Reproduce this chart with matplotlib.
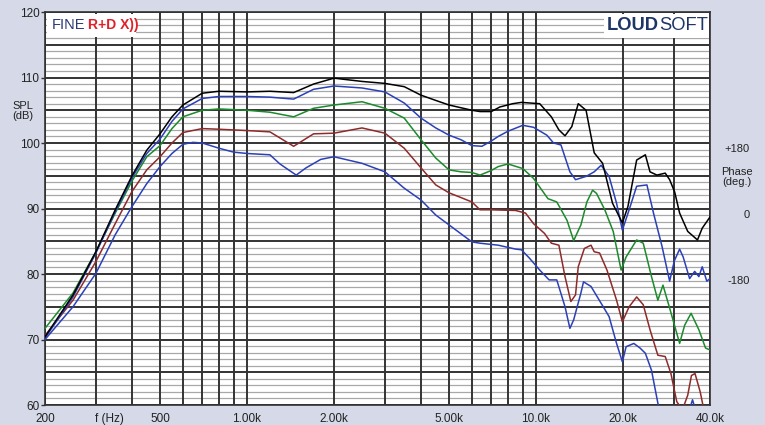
import numpy as np
import matplotlib.pyplot as plt
from matplotlib.ticker import FixedLocator, NullFormatter

# --- data (frequency in Hz, SPL in dB) ---
f_black = [200, 250, 300, 350, 400, 450, 500, 550, 600, 700, 800, 1000, 1200, 1450, 1700, 2000,
           2500, 3000, 3500, 4000, 4500, 5000, 6000, 6400, 7000, 7500, 8300, 8900, 10300, 11300,
           12000, 12600, 13300, 14000, 14900, 15900, 17000, 18400, 19900, 20800, 22300, 23900,
           24800, 26200, 28000, 29000, 30200, 31400, 33500, 36200, 37600, 40000]
spl_black = [70.4, 76.8, 83.4, 89.8, 95.0, 98.9, 101.4, 104.0, 105.8, 107.6, 107.9, 107.8, 107.9,
             107.7, 109.0, 109.9, 109.4, 109.1, 108.6, 107.3, 106.5, 105.8, 105.0, 104.8, 104.8,
             105.5, 106.0, 106.2, 106.0, 104.0, 102.0, 101.1, 102.5, 106.0, 105.0, 98.5, 96.9,
             90.8, 87.8, 90.3, 97.4, 98.2, 95.6, 95.1, 95.4, 94.4, 92.5, 89.3, 86.5, 85.2, 87.0, 88.7]

f_blue1 = [200, 250, 300, 350, 400, 450, 500, 550, 600, 700, 800, 1000, 1200, 1450, 1700, 2000,
           2500, 3000, 3500, 4000, 4500, 5000, 5500, 6000, 6500, 7000, 7400, 8000, 9000, 9800,
           10900, 11500, 12200, 13100, 13700, 14900, 15900, 16800, 17900, 19000, 19900, 21000,
           22300, 24200, 25500, 27300, 29000, 30100, 31400, 32300, 34000, 35400, 36600, 37600,
           39000, 40000]
spl_blue1 = [70.2, 76.5, 83.2, 89.5, 94.7, 98.4, 100.6, 103.3, 105.2, 106.8, 107.1, 107.1, 107.0,
             106.7, 108.2, 108.7, 108.4, 107.8, 106.1, 103.8, 102.3, 101.2, 100.5, 99.6, 99.5,
             100.3, 101.0, 101.8, 102.7, 102.4, 101.2, 100.0, 99.7, 95.6, 94.4, 94.9, 95.6, 96.6,
             94.9, 90.8, 86.7, 89.8, 93.4, 93.6, 89.3, 84.2, 78.9, 82.0, 83.8, 82.6, 79.3, 80.4,
             79.6, 81.1, 78.9, 79.3]

f_green = [200, 250, 300, 350, 400, 450, 500, 550, 600, 700, 800, 1000, 1200, 1450, 1700, 2000,
           2500, 3000, 3500, 4000, 4500, 5000, 5500, 6000, 6400, 7000, 7400, 8000, 9000, 9800,
           11000, 11800, 12800, 13500, 14300, 15000, 15700, 16200, 17300, 18500, 19700, 20500,
           22300, 23500, 25100, 26400, 27500, 29000, 31400, 32700, 34400, 36600, 38600, 40000]
spl_green = [71.7, 77.1, 83.4, 89.3, 94.2, 97.9, 99.6, 102.2, 104.0, 105.0, 105.2, 105.0, 104.7,
             104.0, 105.3, 105.8, 106.3, 105.3, 103.8, 100.5, 97.7, 95.9, 95.6, 95.5, 95.1, 95.8,
             96.4, 96.8, 96.1, 94.6, 91.5, 91.0, 88.2, 85.1, 87.5, 91.0, 92.8, 92.3, 89.8, 86.5,
             80.6, 82.6, 85.2, 84.7, 79.6, 76.0, 78.3, 74.8, 69.4, 72.2, 74.0, 71.5, 68.7, 68.4]

f_brown = [200, 250, 300, 350, 400, 450, 500, 550, 600, 700, 800, 1000, 1200, 1450, 1700, 2000,
           2500, 3000, 3500, 4000, 4500, 5000, 6000, 6400, 7000, 8500, 9200, 9800, 10700, 11300,
           12000, 12600, 13200, 13700, 14000, 14700, 15500, 15900, 16600, 17600, 19000, 19900,
           21000, 22300, 23500, 24800, 26400, 28000, 29300, 30700, 31500, 32500, 33500, 34500,
           35500, 37000, 38000, 40000]
spl_brown = [70.6, 76.0, 81.9, 87.7, 92.6, 95.9, 97.9, 100.0, 101.6, 102.2, 102.1, 101.9, 101.7,
             99.5, 101.4, 101.5, 102.3, 101.5, 99.2, 96.2, 93.6, 92.4, 91.0, 89.8, 89.8, 89.7,
             89.3, 87.7, 86.2, 84.7, 84.4, 79.6, 75.8, 76.8, 81.1, 83.9, 84.4, 83.4, 83.2, 80.6,
             76.0, 72.7, 75.0, 76.5, 75.3, 71.5, 67.6, 67.4, 64.8, 60.5, 59.8, 59.9, 61.5, 64.5,
             64.8, 62.0, 59.5, 58.0]

f_blue2 = [200, 250, 300, 350, 400, 450, 500, 550, 600, 650, 700, 800, 900, 1000, 1200, 1300,
           1480, 1600, 1800, 2000, 2500, 3000, 3500, 4000, 4500, 5000, 6000, 6400, 7400, 8500,
           8900, 9500, 10300, 11100, 11800, 12600, 13100, 13500, 14300, 14600, 15500, 16400,
           17900, 19000, 19900, 20500, 21800, 22900, 23900, 25100, 26400, 27500, 30000, 33000,
           34800, 35500, 40000]
spl_blue2 = [70.0, 75.0, 80.1, 86.0, 90.3, 93.8, 96.4, 98.4, 99.8, 100.1, 100.0, 99.2, 98.6, 98.4,
             98.2, 96.8, 95.1, 96.2, 97.5, 97.9, 96.9, 95.6, 93.1, 91.3, 89.0, 87.5, 84.9, 84.7,
             84.4, 83.8, 83.7, 82.4, 80.6, 79.1, 79.1, 75.0, 71.7, 73.0, 77.1, 78.8, 78.1, 76.3,
             73.5, 69.4, 66.6, 68.9, 69.4, 68.7, 67.9, 65.3, 60.3, 57.5, 56.0, 57.5, 60.8, 59.5, 57.0]

x_labels = ['200', 'f (Hz)', '500', '1.00k', '2.00k', '5.00k', '10.0k', '20.0k', '40.0k']
x_label_pos = [200, 335, 500, 1000, 2000, 5000, 10000, 20000, 40000]
y_ticks = [60, 70, 80, 90, 100, 110, 120]

bg = '#d6dae8'
fig = plt.figure(figsize=(7.65, 4.25), dpi=100, facecolor=bg)
ax = fig.add_axes([45/765, 20/425, 665/765, 393/425])
ax.set_facecolor('white')
ax.set_xscale('log')
ax.set_xlim(200, 40000)
ax.set_ylim(60, 120)

# grid
vlines = list(range(200, 1000, 100)) + list(range(1000, 10000, 1000)) + [10000, 20000, 30000, 40000]
for v in vlines:
    ax.axvline(v, color='#333333', lw=1.4, zorder=1)
for h in range(60, 121):
    if h % 5 == 0:
        ax.axhline(h, color='#333333', lw=1.4, zorder=1)
    else:
        ax.axhline(h, color='#a8a8a8', lw=0.9, zorder=0.9)

ax.plot(f_blue2, spl_blue2, color='#2b40b8', lw=1.1, zorder=3)
ax.plot(f_brown, spl_brown, color='#8e2a2a', lw=1.1, zorder=3)
ax.plot(f_green, spl_green, color='#1b8a2b', lw=1.1, zorder=3)
ax.plot(f_blue1, spl_blue1, color='#2b40b8', lw=1.1, zorder=3)
ax.plot(f_black, spl_black, color='black', lw=1.1, zorder=4)

ax.xaxis.set_major_locator(FixedLocator([]))
ax.xaxis.set_minor_locator(FixedLocator([]))
ax.xaxis.set_minor_formatter(NullFormatter())
ax.set_yticks(y_ticks)
ax.set_yticklabels([str(v) for v in y_ticks], fontsize=8.5, color='#222222', family='Liberation Sans')
ax.tick_params(axis='y', length=3, width=1, pad=1, color='#333333')
for s in ax.spines.values():
    s.set_color('#333333')
    s.set_linewidth(1.2)

for lab, pos in zip(x_labels, x_label_pos):
    ax.text(pos, -0.035, lab, transform=ax.get_xaxis_transform(), ha='center', va='center',
            fontsize=8.5, color='#222222', family='Liberation Sans')

def ftxt(x, y, s, **kw):
    fig.text(x/765, 1 - y/425, s, family='Liberation Sans', **kw)

ftxt(23, 111, 'SPL\n(dB)', ha='center', va='center', fontsize=8, color='#222222', linespacing=1.0)
ftxt(737, 149, '+180', ha='center', va='center', fontsize=8, color='#222222')
ftxt(737, 177, 'Phase\n(deg.)', ha='center', va='center', fontsize=8, color='#222222', linespacing=1.0)
ftxt(747, 215, '0', ha='center', va='center', fontsize=8, color='#222222')
ftxt(739, 281, '-180', ha='center', va='center', fontsize=8, color='#222222')

# logos
fig.patches.append(plt.Rectangle((47/765, 1 - 37/425), 89/765, 23/425, transform=fig.transFigure,
                                 facecolor='white', edgecolor='none', zorder=5))
fig.patches.append(plt.Rectangle((604/765, 1 - 38/425), 105/765, 24/425, transform=fig.transFigure,
                                 facecolor='white', edgecolor='none', zorder=5))
ftxt(52, 25, 'FINE', ha='left', va='center', fontsize=10.5, color='#2a3a70', zorder=6)
ftxt(88, 25, 'R+D X))', ha='left', va='center', fontsize=10, color='#e0202a', weight='bold', zorder=6)
t1 = fig.text(607/765, 1 - 26/425, 'LOUD', family='Liberation Sans', ha='left', va='center',
              fontsize=13.2, color='#1f3566', weight='bold', zorder=6)
fig.canvas.draw()
bb = t1.get_window_extent()
fig.text(bb.x1/765, 1 - 26/425, 'SOFT', family='Liberation Sans', ha='left', va='center',
         fontsize=13.2, color='#1f3566', zorder=6)

fig.savefig('out.png', dpi=100, facecolor=bg)
